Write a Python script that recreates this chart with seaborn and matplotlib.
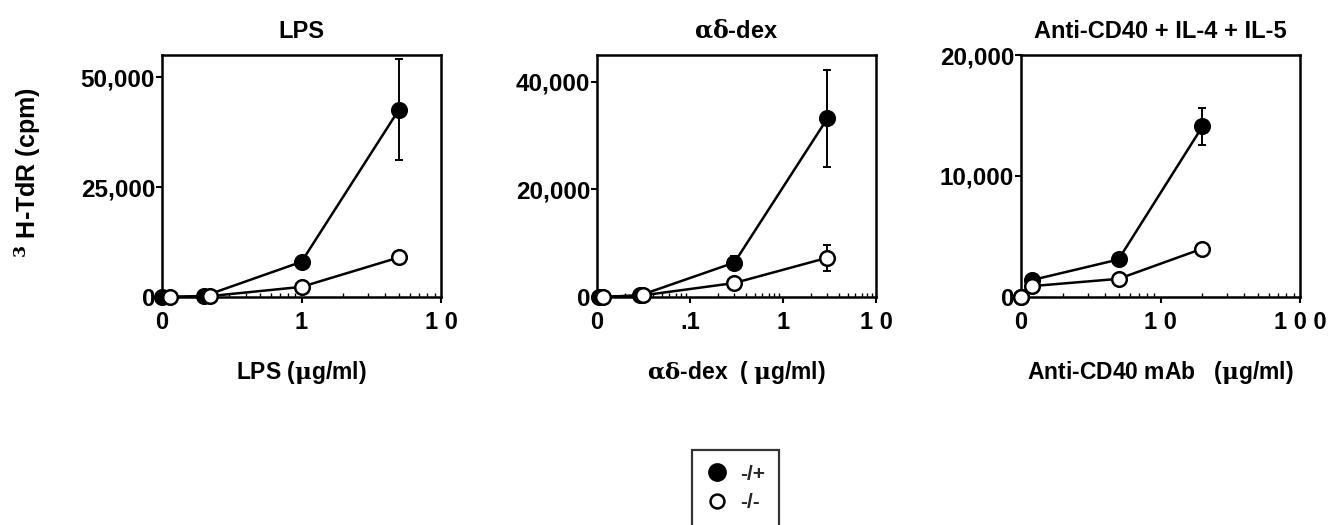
import matplotlib
matplotlib.use("Agg")
import matplotlib.pyplot as plt
import seaborn as sns
import pandas as pd
import numpy as np
from matplotlib.lines import Line2D
from matplotlib.ticker import LogLocator, NullFormatter

sns.set_theme(style="white")
plt.rcParams['font.family'] = ['Liberation Sans', 'DejaVu Sans']
plt.rcParams['font.weight'] = 'bold'
plt.rcParams['mathtext.fontset'] = 'dejavuserif'

# ---- data ----
titles = ["LPS", r"$\mathrm{\alpha\delta}$-dex", "Anti-CD40 + IL-4 + IL-5"]
xlabels = [r"LPS ($\mathrm{\mu}$g/ml)", r"$\mathrm{\alpha\delta}$-dex  ( $\mathrm{\mu}$g/ml)",
           r"Anti-CD40 mAb   ($\mathrm{\mu}$g/ml)"]

lps_x_pos = [0.1, 0.2, 1, 5]
lps_y_pos = [0, 200, 8000, 42600]
lps_e_pos = [0, 0, 0, 11400]
lps_x_neg = [0.115, 0.22, 1, 5]
lps_y_neg = [0, 200, 2300, 9000]
lps_e_neg = [0, 0, 0, 0]

dex_x_pos = [0.0105, 0.029, 0.3, 3]
dex_y_pos = [0, 300, 6400, 33200]
dex_e_pos = [0, 0, 1300, 9000]
dex_x_neg = [0.0115, 0.031, 0.3, 3]
dex_y_neg = [0, 300, 2600, 7300]
dex_e_neg = [0, 0, 0, 2400]

cd40_x_pos = [1.0, 1.2, 5, 20]
cd40_y_pos = [0, 1400, 3100, 14100]
cd40_e_pos = [0, 0, 0, 1500]
cd40_x_neg = [1.0, 1.2, 5, 20]
cd40_y_neg = [0, 900, 1500, 4000]
cd40_e_neg = [0, 0, 0, 0]

xlims = [(0.1, 10), (0.01, 10), (1, 100)]
xticks = [[0.1, 1, 10], [0.01, 0.1, 1, 10], [1, 10, 100]]
xticklabels = [["0", "1", "1 0"], ["0", ".1", "1", "1 0"], ["0", "1 0", "1 0 0"]]
ylims = [(0, 55000), (0, 45000), (0, 20000)]
yticks = [[0, 25000, 50000], [0, 20000, 40000], [0, 10000, 20000]]
legend_labels = ["-/+", "-/-"]

panels = [
    (lps_x_pos, lps_y_pos, lps_e_pos, lps_x_neg, lps_y_neg, lps_e_neg),
    (dex_x_pos, dex_y_pos, dex_e_pos, dex_x_neg, dex_y_neg, dex_e_neg),
    (cd40_x_pos, cd40_y_pos, cd40_e_pos, cd40_x_neg, cd40_y_neg, cd40_e_neg),
]

W, H = 1332, 525
fig = plt.figure(figsize=(W / 100, H / 100), dpi=100)
lefts = [162, 597, 1021]
top_px, bot_px, width_px = 55, 297, 279

for i, (xp, yp, ep, xn, yn, en) in enumerate(panels):
    ax = fig.add_axes([lefts[i] / W, 1 - bot_px / H, width_px / W, (bot_px - top_px) / H])
    ax.set_xscale('log')
    for x, y, e, fc in [(xp, yp, ep, 'black'), (xn, yn, en, 'white')]:
        df = pd.DataFrame({'x': x, 'y': y, 'e': e})
        sel = df[df['e'] > 0]
        if len(sel):
            ax.errorbar(sel['x'], sel['y'], yerr=sel['e'], fmt='none', ecolor='black',
                        elinewidth=1.4, capsize=3, capthick=1.4, zorder=2)
        sns.lineplot(data=df, x='x', y='y', ax=ax, color='black', linewidth=1.8,
                     marker='o', markersize=10.5, markerfacecolor=fc,
                     markeredgecolor='black', markeredgewidth=1.8, clip_on=False,
                     zorder=3 if fc == 'black' else 4)
    ax.set_xlim(*xlims[i])
    ax.set_ylim(*ylims[i])
    ax.set_xticks(xticks[i])
    ax.set_xticklabels(xticklabels[i], fontsize=17, fontweight='bold')
    ax.xaxis.set_minor_locator(LogLocator(base=10, subs=np.arange(2, 10)))
    ax.xaxis.set_minor_formatter(NullFormatter())
    ax.set_yticks(yticks[i])
    ax.set_yticklabels([f"{v:,}" for v in yticks[i]], fontsize=17.5, fontweight='bold')
    ax.tick_params(axis='x', which='major', direction='out', length=4, width=1.5,
                   bottom=True, pad=6, colors='black')
    ax.tick_params(axis='x', which='minor', direction='in', length=3, width=1,
                   bottom=True, colors='black')
    ax.tick_params(axis='y', which='major', direction='out', length=4, width=1.5,
                   left=True, pad=1, colors='black')
    for s in ax.spines.values():
        s.set_color('black')
        s.set_linewidth(1.8)
    ax.set_xlabel(xlabels[i], fontsize=16.5, fontweight='bold', labelpad=18, color='black')
    ax.set_ylabel('')
    ax.set_title(titles[i], fontsize=17, fontweight='bold', pad=12, color='black')
    ax.grid(False)

fig.text(28 / W, 1 - 173 / H, r"$^{3}$ H-TdR (cpm)", rotation=90, ha='center', va='center',
         fontsize=18, fontweight='bold', color='black')

handles = [
    Line2D([], [], marker='o', linestyle='none', markersize=12, markerfacecolor='black',
           markeredgecolor='black', markeredgewidth=1.5),
    Line2D([], [], marker='o', linestyle='none', markersize=10, markerfacecolor='white',
           markeredgecolor='black', markeredgewidth=1.8),
]
leg = fig.legend(handles, legend_labels, loc='upper left',
                 bbox_to_anchor=(692 / W, 1 - 450 / H), borderaxespad=0, frameon=True,
                 fancybox=False, prop={'weight': 'bold', 'size': 15}, handletextpad=0.6,
                 labelspacing=0.45, borderpad=0.7, handlelength=1.0)
leg.get_frame().set_edgecolor('black')
leg.get_frame().set_linewidth(1.6)

fig.savefig('out.png', dpi=100, facecolor='white')
